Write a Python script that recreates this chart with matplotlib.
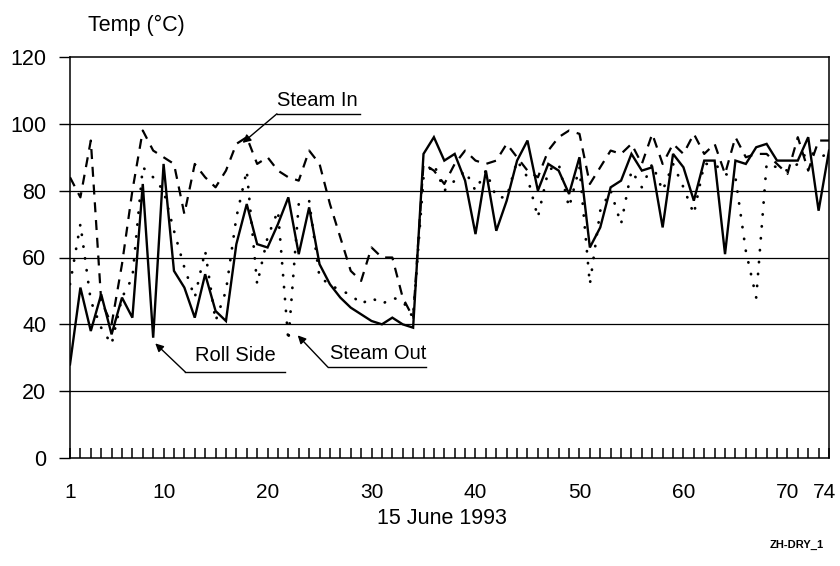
import matplotlib
matplotlib.use("Agg")
import matplotlib.pyplot as plt
import matplotlib.transforms as mtransforms
import numpy as np

plt.rcParams['font.family'] = ['Liberation Sans', 'DejaVu Sans']

# ---- data ----
sample = list(range(1, 75))

roll_side = [28, 51, 38, 49, 37, 48, 42, 82, 36, 88,
             56, 51, 42, 55, 44, 41, 64, 76, 64, 63,
             70, 78, 61, 75, 58, 52, 48, 45, 43, 41,
             40, 42, 40, 39, 91, 96, 89, 91, 83, 67,
             86, 68, 77, 89, 95, 80, 88, 86, 79, 90,
             63, 69, 81, 83, 91, 86, 87, 69, 91, 87,
             77, 89, 89, 61, 89, 88, 93, 94, 89, 89,
             89, 96, 74, 92]

steam_in = [84, 78, 95, 47, 40, 58, 80, 98, 92, 90,
            88, 73, 88, 84, 81, 86, 94, 96, 88, 90,
            86, 84, 83, 92, 88, 76, 66, 56, 53, 63,
            60, 60, 48, 42, 88, 86, 82, 88, 92, 89,
            88, 89, 94, 90, 86, 84, 92, 96, 98, 97,
            82, 87, 92, 91, 94, 88, 97, 88, 94, 91,
            97, 91, 94, 85, 96, 90, 91, 91, 88, 85,
            96, 86, 95, 95]

steam_out = [52, 70, 47, 39, 34, 48, 54, 87, 84, 80,
             68, 57, 48, 62, 41, 50, 72, 86, 52, 66,
             74, 35, 76, 77, 54, 52, 50, 49, 46, 48,
             46, 48, 47, 42, 84, 88, 80, 83, 86, 80,
             86, 78, 78, 89, 84, 72, 86, 88, 75, 87,
             52, 74, 80, 70, 86, 81, 88, 80, 88, 81,
             73, 88, 88, 85, 84, 62, 48, 88, 87, 86,
             88, 92, 90, 91]

y_ticks = [0, 20, 40, 60, 80, 100, 120]
x_tick_labels = [1, 10, 20, 30, 40, 50, 60, 70, 74]

# ---- figure ----
fig = plt.figure(figsize=(8.4, 5.66), dpi=100)
ax = fig.add_axes([70/840, 1-458/566, 759/840, 401/566])

ax.plot(sample, roll_side, color='black', lw=1.7, solid_joinstyle='miter')
ax.plot(sample, steam_in, color='black', lw=1.6, dashes=(4.5, 3.5))
ax.plot(sample, steam_out, color='black', lw=2.0, dashes=(0.1, 4.2),
        dash_capstyle='round')

ax.set_xlim(1, 74)
ax.set_ylim(0, 120)

# horizontal grid lines
for yv in y_ticks[1:-1]:
    ax.axhline(yv, color='black', lw=0.9, zorder=0)

ax.set_yticks(y_ticks)
ax.set_yticklabels([str(v) for v in y_ticks], fontsize=15.5)
ax.tick_params(axis='y', direction='out', length=8, width=1, pad=9)

ax.set_xticks(x_tick_labels)
ax.set_xticklabels([str(v) for v in x_tick_labels], fontsize=15)
ax.set_xticks(sample, minor=True)
ax.tick_params(axis='x', which='both', direction='in', length=7, width=1.1,
               pad=18, top=False)

# nudge the last x label ("74") slightly left so it stays inside the figure
last = ax.get_xticklabels()[-1]
last.set_transform(last.get_transform() +
                   mtransforms.ScaledTranslation(-4/100, 0, fig.dpi_scale_trans))

for s in ax.spines.values():
    s.set_linewidth(1.1)

# annotations (callouts)
def callout(text, tip, under_start, under_end, text_pos):
    ax.plot([under_start[0], under_end[0]], [under_start[1], under_end[1]],
            color='black', lw=1.0)
    ax.annotate('', xy=tip, xytext=under_start,
                arrowprops=dict(arrowstyle='-|>', color='black', lw=1.0,
                                mutation_scale=12, shrinkA=0, shrinkB=0))
    ax.text(text_pos[0], text_pos[1], text, fontsize=14.5, ha='center',
            va='center')

callout('Steam In', (17.6, 94.3), (20.9, 103.0), (28.9, 103.0), (24.8, 107.0))
callout('Roll Side', (9.2, 34.3), (12.1, 25.7), (21.7, 25.7), (16.9, 30.6))
callout('Steam Out', (22.9, 36.7), (25.8, 27.2), (35.2, 27.2), (30.6, 31.4))

fig.text(88/840, 1-25/566, 'Temp (°C)', fontsize=15.5, ha='left', va='center')
fig.text(442/840, 1-518/566, '15 June 1993', fontsize=15.5, ha='center',
         va='center')
fig.text(797/840, 1-545/566, 'ZH-DRY_1', fontsize=8, ha='center',
         va='center', fontweight='bold')

fig.savefig('out.png', dpi=100)
